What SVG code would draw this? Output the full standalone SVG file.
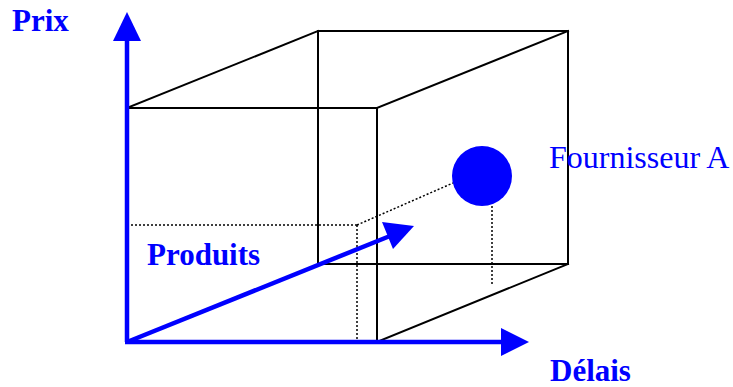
<svg xmlns="http://www.w3.org/2000/svg" width="733" height="387" viewBox="0 0 733 387">
<style>
.edge{stroke:#000;stroke-width:2;fill:none;stroke-linecap:square}
.dot{stroke:#000;stroke-width:1.5;stroke-dasharray:2,2;fill:none}
.axis{stroke:#0000ff;stroke-width:4.5;fill:none}
.head{fill:#0000ff;stroke:none}
.lbl{font-family:"Liberation Serif","Times New Roman",serif;font-size:31px;fill:#0000ff}
.b{font-weight:bold}
.r{font-size:32px}
</style>
<rect width="733" height="387" fill="#fff"/>
<g id="cube">
<line class="edge" x1="127" y1="108" x2="377" y2="108"/>
<line class="edge" x1="377" y1="108" x2="377" y2="342"/>
<polygon class="edge" points="318,31 568,31 568,264 318,264"/>
<line class="edge" x1="127" y1="108" x2="318" y2="31"/>
<line class="edge" x1="377" y1="108" x2="568" y2="31"/>
<line class="edge" x1="377" y1="342" x2="568" y2="264"/>
</g>
<g id="projections">
<line class="dot" x1="127" y1="225" x2="357" y2="225"/>
<line class="dot" x1="357" y1="225" x2="357" y2="342"/>
<line class="dot" x1="357" y1="225" x2="453" y2="183"/>
<line class="dot" x1="492" y1="206" x2="492" y2="284"/>
</g>
<g id="axes">
<line class="axis" x1="127" y1="342" x2="127" y2="38"/>
<polygon class="head" points="127,12 141,41 113,41"/>
<line class="axis" x1="125" y1="342" x2="505" y2="342"/>
<polygon class="head" points="529,342 501,328 501,356"/>
<line class="axis" x1="127" y1="342" x2="390" y2="236"/>
<polygon class="head" points="414,226 382,222 393,249"/>
</g>
<g id="fournisseurA">
<circle cx="482" cy="176" r="30" fill="#0000ff"/>
<text class="lbl r" x="549" y="168">Fournisseur A</text>
</g>
<g id="labels">
<text class="lbl b" x="12" y="31">Prix</text>
<text class="lbl b" x="550" y="381">Délais</text>
<text class="lbl b" x="147" y="265">Produits</text>
</g>
</svg>
